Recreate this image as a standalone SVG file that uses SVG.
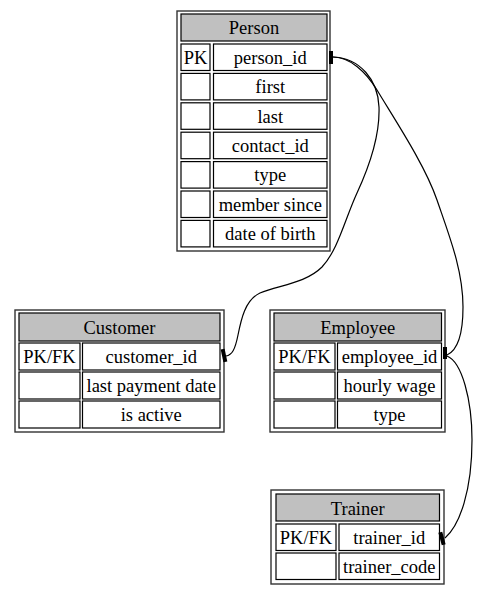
<svg xmlns="http://www.w3.org/2000/svg" width="477" height="595" viewBox="0 0 477 595">
<style>
.outer{fill:#fff;stroke:#333;stroke-width:1.4}
.hdr{fill:#c0c0c0;stroke:#000;stroke-width:1.2}
.cell{fill:#fff;stroke:#000;stroke-width:1.2}
.t{font-family:'Liberation Serif','DejaVu Serif',serif;font-size:18.5px;text-anchor:middle;fill:#000}
.edge{fill:none;stroke:#000;stroke-width:1.2}
.tee{fill:#000}
</style>
<rect width="477" height="595" fill="#fff"/>
<g id="Person">
<rect class="outer" x="177" y="11" width="153" height="240"/>
<rect class="hdr" x="181" y="14" width="146" height="27"/>
<rect class="cell" x="181" y="44" width="29" height="26.5"/><rect class="cell" x="213.5" y="44" width="113.5" height="26.5"/>
<rect class="cell" x="181" y="73.4" width="29" height="26.5"/><rect class="cell" x="213.5" y="73.4" width="113.5" height="26.5"/>
<rect class="cell" x="181" y="102.8" width="29" height="26.5"/><rect class="cell" x="213.5" y="102.8" width="113.5" height="26.5"/>
<rect class="cell" x="181" y="132.2" width="29" height="26.5"/><rect class="cell" x="213.5" y="132.2" width="113.5" height="26.5"/>
<rect class="cell" x="181" y="161.6" width="29" height="26.5"/><rect class="cell" x="213.5" y="161.6" width="113.5" height="26.5"/>
<rect class="cell" x="181" y="191" width="29" height="26.5"/><rect class="cell" x="213.5" y="191" width="113.5" height="26.5"/>
<rect class="cell" x="181" y="220.4" width="29" height="26.5"/><rect class="cell" x="213.5" y="220.4" width="113.5" height="26.5"/>
<g class="t" font-family="Liberation Serif, serif">
<text x="254" y="34">Person</text>
<text x="195.5" y="63.7">PK</text>
<text x="270.25" y="63.7">person_id</text>
<text x="270.25" y="93.1">first</text>
<text x="270.25" y="122.5">last</text>
<text x="270.25" y="151.9">contact_id</text>
<text x="270.25" y="181.3">type</text>
<text x="270.25" y="210.7">member since</text>
<text x="270.25" y="240.1">date of birth</text>
</g>
</g>
<g id="Customer">
<rect class="outer" x="15" y="310" width="209" height="122"/>
<rect class="hdr" x="19" y="313" width="201" height="28"/>
<rect class="cell" x="19" y="343" width="61" height="27"/><rect class="cell" x="82.5" y="343" width="137.5" height="27"/>
<rect class="cell" x="19" y="372" width="61" height="27"/><rect class="cell" x="82.5" y="372" width="137.5" height="27"/>
<rect class="cell" x="19" y="401" width="61" height="27"/><rect class="cell" x="82.5" y="401" width="137.5" height="27"/>
<g class="t" font-family="Liberation Serif, serif">
<text x="119.5" y="333.5">Customer</text>
<text x="49.5" y="363">PK/FK</text>
<text x="151.25" y="363">customer_id</text>
<text x="151.25" y="392">last payment date</text>
<text x="151.25" y="421">is active</text>
</g>
</g>
<g id="Employee">
<rect class="outer" x="270" y="310" width="175" height="122"/>
<rect class="hdr" x="274" y="313" width="167.5" height="28"/>
<rect class="cell" x="274" y="343" width="61" height="27"/><rect class="cell" x="337.5" y="343" width="104" height="27"/>
<rect class="cell" x="274" y="372" width="61" height="27"/><rect class="cell" x="337.5" y="372" width="104" height="27"/>
<rect class="cell" x="274" y="401" width="61" height="27"/><rect class="cell" x="337.5" y="401" width="104" height="27"/>
<g class="t" font-family="Liberation Serif, serif">
<text x="357.75" y="333.5">Employee</text>
<text x="304.5" y="363">PK/FK</text>
<text x="389.5" y="363">employee_id</text>
<text x="389.5" y="392">hourly wage</text>
<text x="389.5" y="421">type</text>
</g>
</g>
<g id="Trainer">
<rect class="outer" x="271" y="490" width="173" height="94"/>
<rect class="hdr" x="276" y="494" width="163.5" height="27"/>
<rect class="cell" x="276" y="524" width="60" height="26.5"/><rect class="cell" x="339" y="524" width="100.5" height="26.5"/>
<rect class="cell" x="276" y="553" width="60" height="26.5"/><rect class="cell" x="339" y="553" width="100.5" height="26.5"/>
<g class="t" font-family="Liberation Serif, serif">
<text x="357.75" y="514.5">Trainer</text>
<text x="306" y="543.5">PK/FK</text>
<text x="389.25" y="543.5">trainer_id</text>
<text x="389.25" y="572.5">trainer_code</text>
</g>
</g>
<g id="connectors">
<path class="edge" d="M333,57 C360,58 378,80 379,107 C380,135 370,165 357,193 C345,219 338,250 322,267 C306,283 280,285 260,293 C245,300 241,320 238,335 C235,350 232,355 226,356"/>
<path class="edge" d="M333,57 C350,57 366,72 377,90 C395,120 425,165 437,200 C449,235 463,270 463,307 C463,335 458,350 447,355"/>
<path class="edge" d="M447,356 C462,362 472,400 472,440 C472,490 460,525 445,538"/>
<rect class="tee" x="329" y="51" width="4" height="13"/>
<rect class="tee" x="222" y="349" width="4" height="13" transform="rotate(-12 224 355.5)"/>
<rect class="tee" x="443" y="347" width="4" height="12"/>
<rect class="tee" x="440" y="532" width="4" height="13" transform="rotate(-15 442 538.5)"/>
</g>
</svg>
